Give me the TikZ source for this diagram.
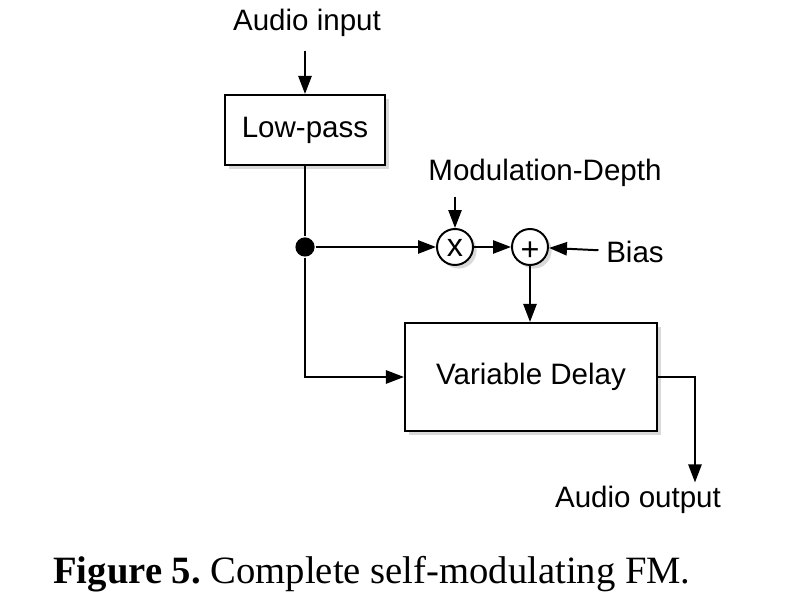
\documentclass[tikz,border=0pt]{standalone}
\usepackage{fontspec}
\setmainfont{Liberation Serif}
\setsansfont{Liberation Sans}
\usetikzlibrary{arrows.meta,shadows}

\begin{document}
\begin{tikzpicture}[x=0.025cm, y=-0.025cm, line width=1.4pt,
    >={Triangle[length=0.45cm,width=0.33cm]},
    shade/.style={drop shadow={shadow xshift=0.09cm, shadow yshift=-0.09cm, opacity=0.3}},
    block/.style={draw, fill=white, shade, font=\sffamily\fontsize{21}{24}\selectfont},
    op/.style={draw, circle, fill=white, shade, minimum size=0.9cm, inner sep=0pt, text height=14pt, text depth=0pt, font=\sffamily\fontsize{23}{24}\selectfont},
    lbl/.style={font=\sffamily\fontsize{21}{24}\selectfont, inner sep=2pt}]
    \useasboundingbox (0,0) rectangle (790,602);
    % labels
    \node[lbl] (in) at (307,23) {Audio input};
    \node[lbl] (depth) at (545,173) {Modulation-Depth};
    \node[lbl] (bias) at (635,252) {Bias};
    \node[lbl] (out) at (638,500) {Audio output};
    % blocks
    \node[block, minimum width=4cm, minimum height=1.75cm] (lp) at (305,130) {Low-pass};
    \node[block, minimum width=6.3cm, minimum height=2.7cm] (vd) at (531,377) {Variable Delay};
    \node[op] (mul) at (455,247) {x};
    \node[op, text height=19pt] (add) at (530,247) {+};
    \node[circle, fill=black, minimum size=0.48cm, inner sep=0pt] (tap) at (305,247) {};
    \coordinate (corner) at (695,377);
    % connectors
    \draw[->, shorten <=0.25cm] (in.south -| lp) -- (lp);
    \draw (lp.south -| tap) -- (tap);
    \draw[->] (tap) -- (mul);
    \draw[->] (tap) |- (vd);
    \draw[->, shorten <=0.15cm] (depth.south -| mul) -- (mul);
    \draw[->] (mul) -- (add);
    \draw[->, shorten <=0.1cm] (bias) -- (add);
    \draw[->] (add) -- (add |- vd.north);
    \draw[->] (vd.east) -- (corner) -- (corner |- out.north);
    % caption
    \node[font=\fontsize{27.5}{30}\selectfont] (cap) at (372,574) {\textbf{Figure 5.}\ Complete self-modulating FM.};
\end{tikzpicture}
\end{document}
